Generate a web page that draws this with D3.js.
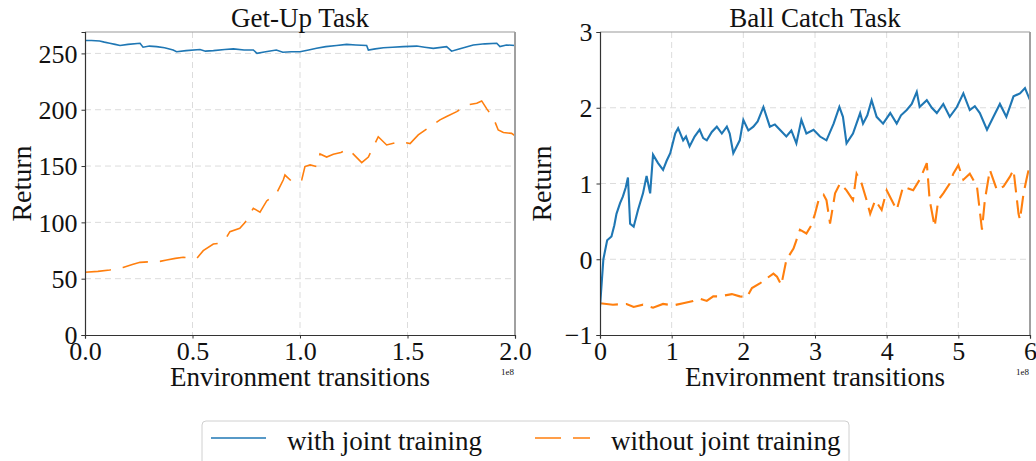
<!DOCTYPE html>
<html>
<head>
<meta charset="utf-8">
<script src="https://cdn.jsdelivr.net/npm/d3@7"></script>
<style>
body { margin: 0; background: #fff; }
text { font-family: "Liberation Serif", "Times New Roman", serif; fill: #111; }
</style>
</head>
<body>
<script>
// values, x in units of 1e8 transitions
var getUpJoint = [[0,261.5],[0.03,261.5],[0.068,261],[0.09,260],[0.115,259],[0.14,258],[0.163,257],[0.2,258],[0.256,259],[0.27,255.5],[0.3,256.5],[0.333,256],[0.37,255],[0.41,253],[0.426,251.5],[0.47,252.5],[0.535,253.5],[0.56,252],[0.597,252.5],[0.65,253.5],[0.69,254],[0.74,253],[0.783,253],[0.8,250],[0.84,251.5],[0.89,253],[0.92,251],[0.96,251.5],[1.0,251.5],[1.04,253],[1.077,254.5],[1.12,256],[1.17,257],[1.217,258],[1.26,257.5],[1.31,257],[1.318,253],[1.35,254],[1.388,255],[1.43,255.5],[1.48,256],[1.543,256.5],[1.58,255.5],[1.62,254.5],[1.682,256],[1.705,252],[1.74,254],[1.806,257.5],[1.86,258.5],[1.915,259],[1.93,256],[1.96,257.5],[2.0,257]];

var getUpSolo = [[0,55.7],[0.06,56.5],[0.115,57.7],[0.177,60],[0.22,62.5],[0.256,64.5],[0.3,65],[0.349,65.4],[0.38,66.6],[0.42,68],[0.457,69],[0.519,67.8],[0.55,74.9],[0.597,80.8],[0.625,81.5],[0.651,84.4],[0.674,91.7],[0.72,94.7],[0.744,99.8],[0.783,112.5],[0.814,109],[0.845,119],[0.891,125.8],[0.922,137.6],[0.93,142],[0.969,135],[1.008,137.6],[1.023,149.5],[1.047,151],[1.078,149.5],[1.093,160.7],[1.124,158],[1.155,160.4],[1.19,162],[1.225,165],[1.287,153],[1.318,158],[1.364,176],[1.403,168.7],[1.465,171.7],[1.512,170],[1.55,177.6],[1.605,185],[1.651,191],[1.682,193.9],[1.729,198.3],[1.775,204],[1.822,205.8],[1.845,207.8],[1.868,201],[1.9,192.4],[1.922,182],[1.946,179.7],[1.984,179],[2.0,177]];

var ballJoint = [[0,-0.63],[0.047,0.0],[0.1,0.25],[0.16,0.3],[0.2,0.45],[0.23,0.6],[0.28,0.74],[0.32,0.83],[0.36,0.95],[0.39,1.08],[0.42,0.47],[0.47,0.43],[0.53,0.65],[0.6,0.87],[0.65,1.1],[0.7,0.87],[0.74,1.38],[0.81,1.27],[0.88,1.18],[0.93,1.3],[0.98,1.4],[1.05,1.66],[1.09,1.73],[1.16,1.57],[1.2,1.62],[1.25,1.49],[1.32,1.62],[1.39,1.71],[1.44,1.6],[1.49,1.57],[1.56,1.68],[1.63,1.75],[1.7,1.66],[1.77,1.75],[1.81,1.66],[1.86,1.4],[1.95,1.57],[2.0,1.84],[2.07,1.7],[2.14,1.75],[2.2,1.82],[2.28,2.01],[2.37,1.75],[2.44,1.78],[2.51,1.71],[2.6,1.62],[2.67,1.7],[2.74,1.53],[2.81,1.84],[2.88,1.66],[2.98,1.71],[3.07,1.62],[3.16,1.57],[3.26,1.79],[3.34,2.01],[3.39,1.88],[3.44,1.53],[3.53,1.66],[3.63,1.93],[3.67,1.79],[3.73,1.9],[3.79,2.1],[3.86,1.88],[3.95,1.79],[4.05,1.93],[4.14,1.79],[4.2,1.9],[4.28,1.97],[4.35,2.05],[4.42,2.21],[4.46,2.01],[4.56,2.1],[4.63,2.0],[4.7,1.93],[4.79,2.05],[4.88,1.88],[4.98,2.01],[5.07,2.19],[5.16,1.97],[5.23,2.02],[5.3,1.93],[5.4,1.71],[5.49,1.88],[5.58,2.05],[5.67,1.88],[5.77,2.15],[5.86,2.19],[5.93,2.26],[6.0,2.1]];

var ballSolo = [[0,-0.58],[0.18,-0.6],[0.37,-0.59],[0.47,-0.63],[0.6,-0.6],[0.74,-0.64],[0.88,-0.59],[1.02,-0.61],[1.16,-0.58],[1.3,-0.55],[1.39,-0.52],[1.49,-0.55],[1.58,-0.49],[1.67,-0.49],[1.84,-0.46],[1.95,-0.49],[2.05,-0.5],[2.12,-0.38],[2.23,-0.32],[2.33,-0.25],[2.42,-0.19],[2.47,-0.23],[2.53,-0.34],[2.6,-0.01],[2.7,0.14],[2.74,0.25],[2.79,0.39],[2.88,0.34],[2.95,0.45],[3.0,0.6],[3.05,0.78],[3.12,0.85],[3.16,0.78],[3.21,0.47],[3.28,0.87],[3.35,1.0],[3.44,0.91],[3.53,0.78],[3.58,1.13],[3.65,1.0],[3.72,0.78],[3.77,0.6],[3.84,0.78],[3.93,0.65],[4.0,0.91],[4.14,0.65],[4.23,0.96],[4.37,0.91],[4.46,1.05],[4.56,1.27],[4.6,0.78],[4.67,0.43],[4.72,0.78],[4.79,0.87],[4.88,1.0],[4.93,1.13],[5.0,1.24],[5.07,1.05],[5.16,1.13],[5.26,0.96],[5.33,0.39],[5.37,0.78],[5.44,1.18],[5.54,0.91],[5.63,0.96],[5.72,1.09],[5.77,1.18],[5.84,0.6],[5.86,0.52],[5.91,0.87],[5.95,1.05],[5.98,1.18]];

var getUpXTicks = [0, 0.5, 1.0, 1.5, 2.0];
var getUpYTicks = [0, 50, 100, 150, 200, 250];
var ballXTicks = [0, 1, 2, 3, 4, 5, 6];
var ballYTicks = [-1, 0, 1, 2, 3];
var seriesNames = ["with joint training", "without joint training"];

var blue = "#1f77b4", orange = "#ff7f0e";
var dash = "26,12";

var svg = d3.select("body").append("svg")
  .attr("width", 1036)
  .attr("height", 461);

function drawPanel(p) {
  var x = d3.scaleLinear().domain(p.xDomain).range([p.left, p.right]);
  var y = d3.scaleLinear().domain(p.yDomain).range([p.bottom, p.top]);
  var g = svg.append("g");

  // grid
  g.selectAll(".gx").data(p.xTicks.slice(1, -1)).enter().append("line")
    .attr("x1", function(d) { return x(d); }).attr("x2", function(d) { return x(d); })
    .attr("y1", p.top).attr("y2", p.bottom)
    .attr("stroke", "#dcdcdc").attr("stroke-dasharray", "6,4");
  g.selectAll(".gy").data(p.yTicks.filter(function(d) { return y(d) > p.top + 1 && y(d) < p.bottom - 1; })).enter().append("line")
    .attr("y1", function(d) { return y(d); }).attr("y2", function(d) { return y(d); })
    .attr("x1", p.left).attr("x2", p.right)
    .attr("stroke", "#dcdcdc").attr("stroke-dasharray", "6,4");

  var clipId = "clip" + p.id;
  svg.append("clipPath").attr("id", clipId).append("rect")
    .attr("x", p.left).attr("y", p.top)
    .attr("width", p.right - p.left).attr("height", p.bottom - p.top);

  var line = d3.line()
    .x(function(d) { return x(d[0]); })
    .y(function(d) { return y(d[1]); });

  g.append("path").datum(p.solo)
    .attr("clip-path", "url(#" + clipId + ")")
    .attr("d", line).attr("fill", "none")
    .attr("stroke", orange).attr("stroke-width", p.lw)
    .attr("stroke-dasharray", p.dash);
  g.append("path").datum(p.joint)
    .attr("clip-path", "url(#" + clipId + ")")
    .attr("d", line).attr("fill", "none")
    .attr("stroke", blue).attr("stroke-width", p.lw);

  // top and right spines (light)
  g.append("line").attr("x1", p.left).attr("x2", p.right).attr("y1", p.top).attr("y2", p.top)
    .attr("stroke", "#9a9a9a").attr("stroke-width", 1.2);
  g.append("line").attr("x1", p.right).attr("x2", p.right).attr("y1", p.top).attr("y2", p.bottom)
    .attr("stroke", "#a0a0a0").attr("stroke-width", 2);

  var xAxis = g.append("g").attr("transform", "translate(0," + p.bottom + ")")
    .call(d3.axisBottom(x).tickValues(p.xTicks).tickFormat(p.xFormat).tickSize(3.5).tickPadding(3));
  var yAxis = g.append("g").attr("transform", "translate(" + p.left + ",0)")
    .call(d3.axisLeft(y).tickValues(p.yTicks).tickFormat(d3.format("d")).tickSize(3.5).tickPadding(4));
  [xAxis, yAxis].forEach(function(a) {
    a.select(".domain").attr("stroke", "#333").attr("stroke-width", 1.2);
    a.selectAll(".tick line").attr("stroke", "#333");
    a.selectAll("text").attr("font-size", 26).attr("font-family", "Liberation Serif").attr("fill", "#111");
  });
  xAxis.selectAll("text").attr("dy", "0.72em");
  yAxis.selectAll("text").attr("dy", "0.34em");

  svg.append("text").attr("x", (p.left + p.right) / 2).attr("y", 27)
    .attr("text-anchor", "middle").attr("font-size", 27).text(p.title);
  svg.append("text").attr("x", (p.left + p.right) / 2).attr("y", 386)
    .attr("text-anchor", "middle").attr("font-size", 27).text("Environment transitions");
  svg.append("text")
    .attr("transform", "translate(" + p.ylabelX + "," + ((p.top + p.bottom) / 2) + ") rotate(-90)")
    .attr("text-anchor", "middle").attr("font-size", 28).text("Return");
  svg.append("text").attr("x", p.right - 1).attr("y", 375)
    .attr("text-anchor", "end").attr("font-size", 9).text("1e8");
}

drawPanel({
  id: 1, left: 85, right: 515, top: 32, bottom: 335,
  xDomain: [0, 2], yDomain: [0, 269],
  xTicks: getUpXTicks, yTicks: getUpYTicks, xFormat: d3.format(".1f"),
  title: "Get-Up Task", ylabelX: 31, lw: 1.6, dash: dash,
  joint: getUpJoint, solo: getUpSolo
});

drawPanel({
  id: 2, left: 600, right: 1030, top: 32, bottom: 335,
  xDomain: [0, 6], yDomain: [-1, 3],
  xTicks: ballXTicks, yTicks: ballYTicks, xFormat: d3.format("d"),
  title: "Ball Catch Task", ylabelX: 551, lw: 2.1, dash: "18,8",
  joint: ballJoint, solo: ballSolo
});

// legend
var legend = svg.append("g");
legend.append("rect")
  .attr("x", 202).attr("y", 421).attr("width", 647).attr("height", 60)
  .attr("rx", 4).attr("fill", "#fff").attr("stroke", "#d0d0d0");
var legendItems = [
  { name: seriesNames[0], color: blue, dash: null, x: 211 },
  { name: seriesNames[1], color: orange, dash: dash, x: 535 }
];
legendItems.forEach(function(it) {
  legend.append("line")
    .attr("x1", it.x).attr("x2", it.x + 55).attr("y1", 438).attr("y2", 438)
    .attr("stroke", it.color).attr("stroke-width", 1.6)
    .attr("stroke-dasharray", it.dash);
  legend.append("text").attr("x", it.x + 76).attr("y", 450)
    .attr("font-size", 27).text(it.name);
});
</script>
</body>
</html>
